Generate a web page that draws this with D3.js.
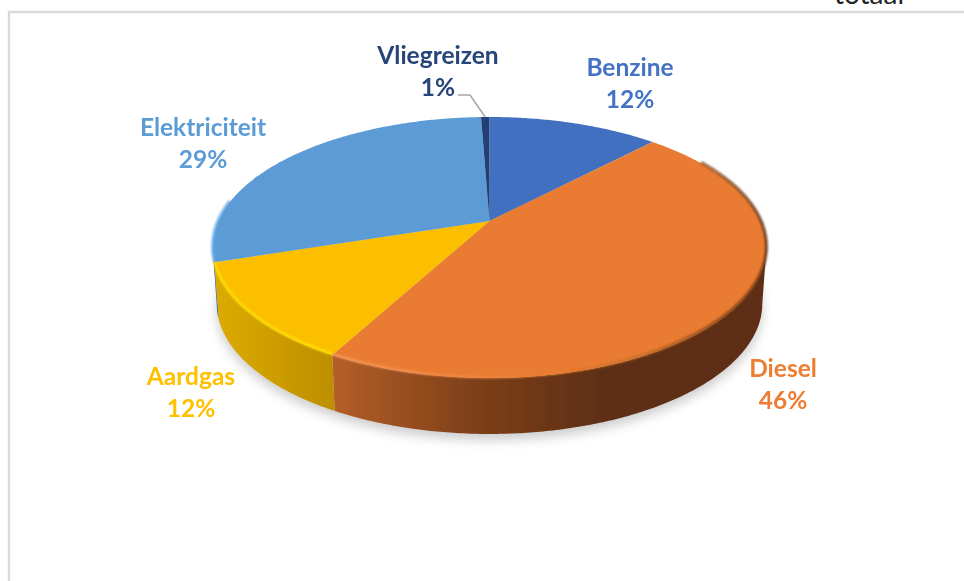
<!DOCTYPE html>
<html><head><meta charset="utf-8">
<script src="https://cdn.jsdelivr.net/npm/d3@7"></script>
<style>html,body{margin:0;padding:0;background:#fff;overflow:hidden}svg{display:block}
text{font-family:Lato,"Open Sans",sans-serif;font-weight:700;text-anchor:middle}</style>
</head><body><svg id="c" width="964" height="581"></svg>
<script>
const categories=["Benzine","Diesel","Aardgas","Elektriciteit","Vliegreizen"];
const shares=[12.1,45.8,12.1,29.4,0.6];
const topColors=["#3f6fbf","#e97b30","#fbbf00","#5b9bd5","#224074"];
const labelColors=["#4472c4","#ed7d31","#ffc000","#5b9bd5","#264478"];
const labelX=[630,783,191,203,438];
const labelY=[76,377,385,136,64];
const W=964,H=581;
const cx=489.5,cy=221,bx=271.2,ay=125.1,k=0.203,depth=56,narrow=0.985;
const svg=d3.select("#c");
const defs=svg.append("defs");
defs.append("filter").attr("id","soft").append("feGaussianBlur").attr("stdDeviation",0.45);
defs.append("filter").attr("id","shadow").attr("x","-20%").attr("y","-20%").attr("width","140%").attr("height","140%").append("feGaussianBlur").attr("stdDeviation",6);
defs.append("filter").attr("id","rim").attr("x","-10%").attr("y","-10%").attr("width","120%").attr("height","120%").append("feGaussianBlur").attr("stdDeviation",1.3);
const project=(t,dy=0,sx=1)=>{const d=1+k*Math.cos(t);return [cx+sx*bx*Math.sin(t)/d,cy-ay*Math.cos(t)/d+dy];};
const pie=d3.pie().sort(null).value(d=>d)(shares);
const arcPts=(a,b,dy=0,sx=1)=>{const n=Math.max(2,Math.ceil((b-a)/0.01));return d3.range(n+1).map(i=>project(a+(b-a)*i/n,dy,sx));};
const line=d3.line();
const front0=Math.acos(-k),front1=2*Math.PI-front0;

function grad(id,stops,x1,x2){
  const g=defs.append("linearGradient").attr("id",id).attr("gradientUnits","userSpaceOnUse")
    .attr("x1",x1).attr("x2",x2).attr("y1",0).attr("y2",0);
  stops.forEach(s=>g.append("stop").attr("offset",s[0]).attr("stop-color",s[1]));
}
grad("wall1",[[0,"#b55e27"],[0.5,"#80411a"],[1,"#5e2f12"]],333,600);
grad("wall2",[[0,"#dcab00"],[1,"#bd8e00"]],216,335);
grad("wall3",[[0,"#2c5a85"],[1,"#2c5a85"]],212,218);
grad("rim1",[[0,"#f79a5c"],[0.34,"#ee8540"],[0.52,"#e97b30"],[0.72,"#c06a2c"],[1,"#5e2f12"]],333,766);
grad("rim2",[[0,"#ffe000"],[1,"#ffe000"]],216,335);
grad("rim3",[[0,"#66b0f0"],[1,"#5b9bd5"]],212,230);

const g=svg.append("g").attr("filter","url(#soft)");
// frame
g.append("path").attr("d",line([[W,12],[9,12],[9,H]])).attr("fill","none").attr("stroke","#d9d9d9").attr("stroke-width",2.5);
svg.append("text").text("totaal").attr("x",869).attr("y",4).attr("font-size",28)
  .style("font-weight",400).attr("fill","#222");
// shadow
g.append("path").attr("d",line(arcPts(0,2*Math.PI,depth+6,narrow))+"Z").attr("fill","#000").attr("opacity",0.2).attr("filter","url(#shadow)");
// walls
pie.forEach((s,i)=>{
  const a=Math.max(s.startAngle,front0),b=Math.min(s.endAngle,front1);
  if(b<=a)return;
  const pts=arcPts(a,b).concat(arcPts(a,b,depth,narrow).reverse());
  g.append("path").attr("d",line(pts)+"Z").attr("fill",`url(#wall${i})`);
});
// faces
pie.forEach((s,i)=>{
  const pts=[[cx,cy]].concat(arcPts(s.startAngle,s.endAngle));
  g.append("path").attr("class","slice").attr("d",line(pts)+"Z").attr("fill",topColors[i]);
});
// bevel along the rim
const rimFrom=[0,Math.PI*0.33,0,0,0],rimTo=[0,7,7,Math.PI*1.55,0];
pie.forEach((s,i)=>{
  const a=Math.max(s.startAngle,rimFrom[i]),b=Math.min(s.endAngle,rimTo[i]);
  if(b<=a)return;
  g.append("path").attr("d",line(arcPts(a,b,-1))).attr("fill","none").attr("stroke",`url(#rim${i})`)
    .attr("stroke-width",2.5).attr("filter","url(#rim)");
});
// leader
const lead=project((pie[4].startAngle+pie[4].endAngle)/2);
g.append("path").attr("d",line([[458,95],[470,95],lead])).attr("fill","none").attr("stroke","#a6a6a6").attr("stroke-width",1.5);
// labels
const fmt=d3.format(".0f");
categories.forEach((c,i)=>{
  const t=g.append("g");
  t.append("text").text(c).attr("x",labelX[i]).attr("y",labelY[i]).attr("font-size",24.5).attr("fill",labelColors[i]);
  t.append("text").text(fmt(shares[i])+"%").attr("x",labelX[i]).attr("y",labelY[i]+32).attr("font-size",24.5).attr("fill",labelColors[i]);
});
</script></body></html>
